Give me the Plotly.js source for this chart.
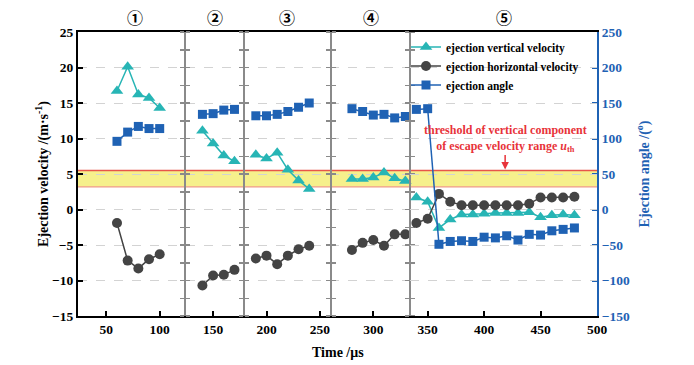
<!DOCTYPE html>
<html>
<head>
<meta charset="utf-8">
<script src="https://cdn.plot.ly/plotly-3.0.1.min.js"></script>
<style>html,body{margin:0;padding:0;background:#fff;}#chart{width:694px;height:365px;}</style>
</head>
<body>
<div id="chart"></div>
<script>
// ---- data ----
const time1 = [60, 70, 80, 90, 100];
const vert1 = [16.7, 20.1, 16.2, 15.7, 14.3];
const horiz1 = [-1.9, -7.2, -8.3, -7.0, -6.3];
const angle1 = [96, 109, 117, 114, 114];

const time2 = [140, 150, 160, 170];
const vert2 = [11.1, 9.3, 7.6, 6.8];
const horiz2 = [-10.7, -9.3, -9.2, -8.5];
const angle2 = [134, 135, 140, 141];

const time3 = [190, 200, 210, 220, 230, 240];
const vert3 = [7.7, 7.2, 8.0, 5.6, 4.1, 2.9];
const horiz3 = [-6.9, -6.5, -7.7, -6.5, -5.6, -5.1];
const angle3 = [132, 132, 134, 138, 144, 150];

const time4 = [280, 290, 300, 310, 320, 330];
const vert4 = [4.3, 4.3, 4.5, 5.2, 4.4, 4.0];
const horiz4 = [-5.7, -4.7, -4.3, -5.1, -3.5, -3.5];
const angle4 = [142, 138, 133, 134, 129, 131];

const time5 = [340, 350, 360, 370, 380, 390, 400, 410, 420, 430, 440, 450, 460, 470, 480];
const vert5 = [1.7, 1.1, -2.6, -1.4, -0.7, -0.7, -0.6, -0.5, -0.5, -0.5, -0.4, -1.1, -0.8, -0.7, -0.8];
const horiz5 = [-1.9, -1.3, 2.2, 1.1, 0.6, 0.6, 0.6, 0.6, 0.6, 0.6, 0.8, 1.7, 1.7, 1.7, 1.8];
const angle5 = [141, 142, -49, -45, -44, -45, -39, -40, -37, -43, -35, -36, -30, -28, -26];

const bandLow = 3.2, bandHigh = 5.5;
const segLabels = ['①', '②', '③', '④', '⑤'];
const segLabelPos = [0.110, 0.264, 0.403, 0.564, 0.821];
const dividerPos = [0.206, 0.320, 0.487, 0.640];

// ---- helpers ----
function joinSegs(arrs) {
  const out = [];
  arrs.forEach((a, i) => { if (i) out.push(null); out.push(...a); });
  return out;
}
const tA = joinSegs([time1, time2, time3, time4]);
const vA = joinSegs([vert1, vert2, vert3, vert4]);
const hA = joinSegs([horiz1, horiz2, horiz3, horiz4]);
const aA = joinSegs([angle1, angle2, angle3, angle4]);

const TEAL = '#27b5b5', GRAY = '#444444', BLUE = '#1f62b4', DIV = '#8a8a8a';
const FONT = 'Liberation Serif, Times New Roman, serif';

const styles = {
  v: {name: 'ejection vertical velocity', line: {color: TEAL, width: 1.5}, marker: {symbol: 'triangle-up', size: 11, color: TEAL}},
  h: {name: 'ejection horizontal velocity', line: {color: GRAY, width: 1.5}, marker: {symbol: 'circle', size: 10, color: GRAY}},
  a: {name: 'ejection angle', line: {color: BLUE, width: 1.5}, marker: {symbol: 'square', size: 9, color: BLUE}}
};
function tr(x, y, s, xa, ya, show) {
  return Object.assign({type: 'scatter', mode: 'lines+markers', x: x, y: y, xaxis: xa, yaxis: ya,
    connectgaps: false, showlegend: show, legendgroup: s.name, cliponaxis: false}, s);
}
const data = [
  tr(time5, vert5, styles.v, 'x2', 'y', true),
  tr(time5, horiz5, styles.h, 'x2', 'y', true),
  tr(time5, angle5, styles.a, 'x2', 'y2', true),
  tr(tA, vA, styles.v, 'x', 'y', false),
  tr(tA, hA, styles.h, 'x', 'y', false),
  tr(tA, aA, styles.a, 'x', 'y2', false)
];

const tickFont = {family: FONT, size: 13.5, color: '#000', weight: 'bold'};
const layout = {
  width: 694, height: 365,
  margin: {l: 78, r: 97, t: 32, b: 49},
  paper_bgcolor: '#fff', plot_bgcolor: 'rgba(0,0,0,0)',
  font: {family: FONT, color: '#000'},
  showlegend: true,
  legend: {x: 0.632, y: 0.998, xanchor: 'left', yanchor: 'top', bgcolor: 'rgba(0,0,0,0)',
           font: {family: FONT, size: 11.5, color: '#000', weight: 'bold'}, tracegroupgap: 0},
  xaxis: {domain: [0, 0.64], range: [23.5, 334.5], tick0: 0, dtick: 50, ticks: 'inside', ticklen: 5, tickwidth: 2,
          tickcolor: '#000', showline: true, linecolor: '#000', linewidth: 2, mirror: true, showgrid: false,
          zeroline: false, tickfont: tickFont, anchor: 'y'},
  xaxis2: {domain: [0.64, 1], range: [334.5, 500], tick0: 0, dtick: 50, ticks: 'inside', ticklen: 5, tickwidth: 2,
           tickcolor: '#000', showline: true, linecolor: '#000', linewidth: 2, mirror: true, showgrid: false,
           zeroline: false, tickfont: tickFont, anchor: 'y'},
  yaxis: {range: [-15, 25], dtick: 5, ticks: 'inside', ticklen: 5, tickwidth: 2, tickcolor: '#000',
          showline: true, linecolor: '#000', linewidth: 2, showgrid: true, gridcolor: '#d3d3d3', griddash: 'dash',
          gridwidth: 1, zeroline: false, tickfont: tickFont, anchor: 'x',
          title: {text: 'Ejection velocity /(m·s<sup>-1</sup>)', font: {family: FONT, size: 14, color: '#000', weight: 'bold'}, standoff: 0}},
  yaxis2: {overlaying: 'y', side: 'right', anchor: 'x2', range: [-150, 250], dtick: 50, ticks: 'inside', ticklen: 5,
           tickwidth: 2, tickcolor: BLUE, showline: true, linecolor: BLUE, linewidth: 2, showgrid: false, zeroline: false,
           tickfont: {family: FONT, size: 13.5, color: BLUE, weight: 'bold'},
           title: {text: 'Ejection angle /(<sup>o</sup>)', font: {family: FONT, size: 14, color: BLUE, weight: 'bold'}, standoff: 10}},
  shapes: [
    {type: 'rect', xref: 'paper', yref: 'y', x0: 0, x1: 1, y0: bandLow, y1: bandHigh, fillcolor: '#f6f08c',
     line: {width: 0}, layer: 'below'},
    {type: 'line', xref: 'paper', yref: 'y', x0: 0, x1: 1, y0: bandHigh, y1: bandHigh, line: {color: '#e8554a', width: 1.5}, layer: 'below'},
    {type: 'line', xref: 'paper', yref: 'y', x0: 0, x1: 1, y0: bandLow, y1: bandLow, line: {color: '#f09a86', width: 1.2}, layer: 'below'}
  ],
  annotations: [
    {xref: 'paper', yref: 'paper', x: 0.5, y: -0.127, xanchor: 'center', yanchor: 'middle', showarrow: false, text: 'Time /μs',
     font: {family: FONT, size: 14, color: '#000', weight: 'bold'}},
    {xref: 'paper', yref: 'paper', x: 0.823, y: 0.625, xanchor: 'center', yanchor: 'middle', showarrow: false,
     text: 'threshold of vertical component<br>of escape velocity range <i>u</i><sub>th</sub>',
     font: {family: FONT, size: 12, color: '#e8333a', weight: 'bold'}, align: 'center'},
    {xref: 'paper', yref: 'y', x: 0.823, y: 5.65, ax: 0, ay: -16, showarrow: true, arrowhead: 2, arrowsize: 1,
     arrowwidth: 1.5, arrowcolor: '#e8333a', text: ''}
  ]
};
segLabels.forEach((t, i) => {
  layout.annotations.push({xref: 'paper', yref: 'paper', x: segLabelPos[i], y: 1.053, xanchor: 'center', yanchor: 'middle',
    showarrow: false, text: t, font: {family: 'Noto Sans CJK SC, DejaVu Sans', size: 16, color: '#000', weight: 'bold'}});
});
// divider axes (gray vertical lines with ticks on both sides)
let ax = 3;
dividerPos.forEach(p => {
  ['left', 'right'].forEach(side => {
    const name = 'yaxis' + ax;
    layout[name] = {overlaying: 'y', anchor: 'free', position: p, side: side, range: [-15, 25], dtick: 5,
      ticks: 'outside', ticklen: 4, tickwidth: 1.5, tickcolor: DIV, showticklabels: false, showgrid: false,
      zeroline: false, showline: true, linecolor: DIV, linewidth: 2,
      minor: {ticks: 'outside', dtick: 2.5, ticklen: 4, tickwidth: 1.5, tickcolor: DIV, showgrid: false}};
    data.push({type: 'scatter', mode: 'markers', x: [null], y: [null], xaxis: 'x', yaxis: 'y' + ax,
      showlegend: false, hoverinfo: 'skip'});
    ax++;
  });
});
Plotly.newPlot('chart', data, layout, {displayModeBar: false, staticPlot: true});
</script>
</body>
</html>
